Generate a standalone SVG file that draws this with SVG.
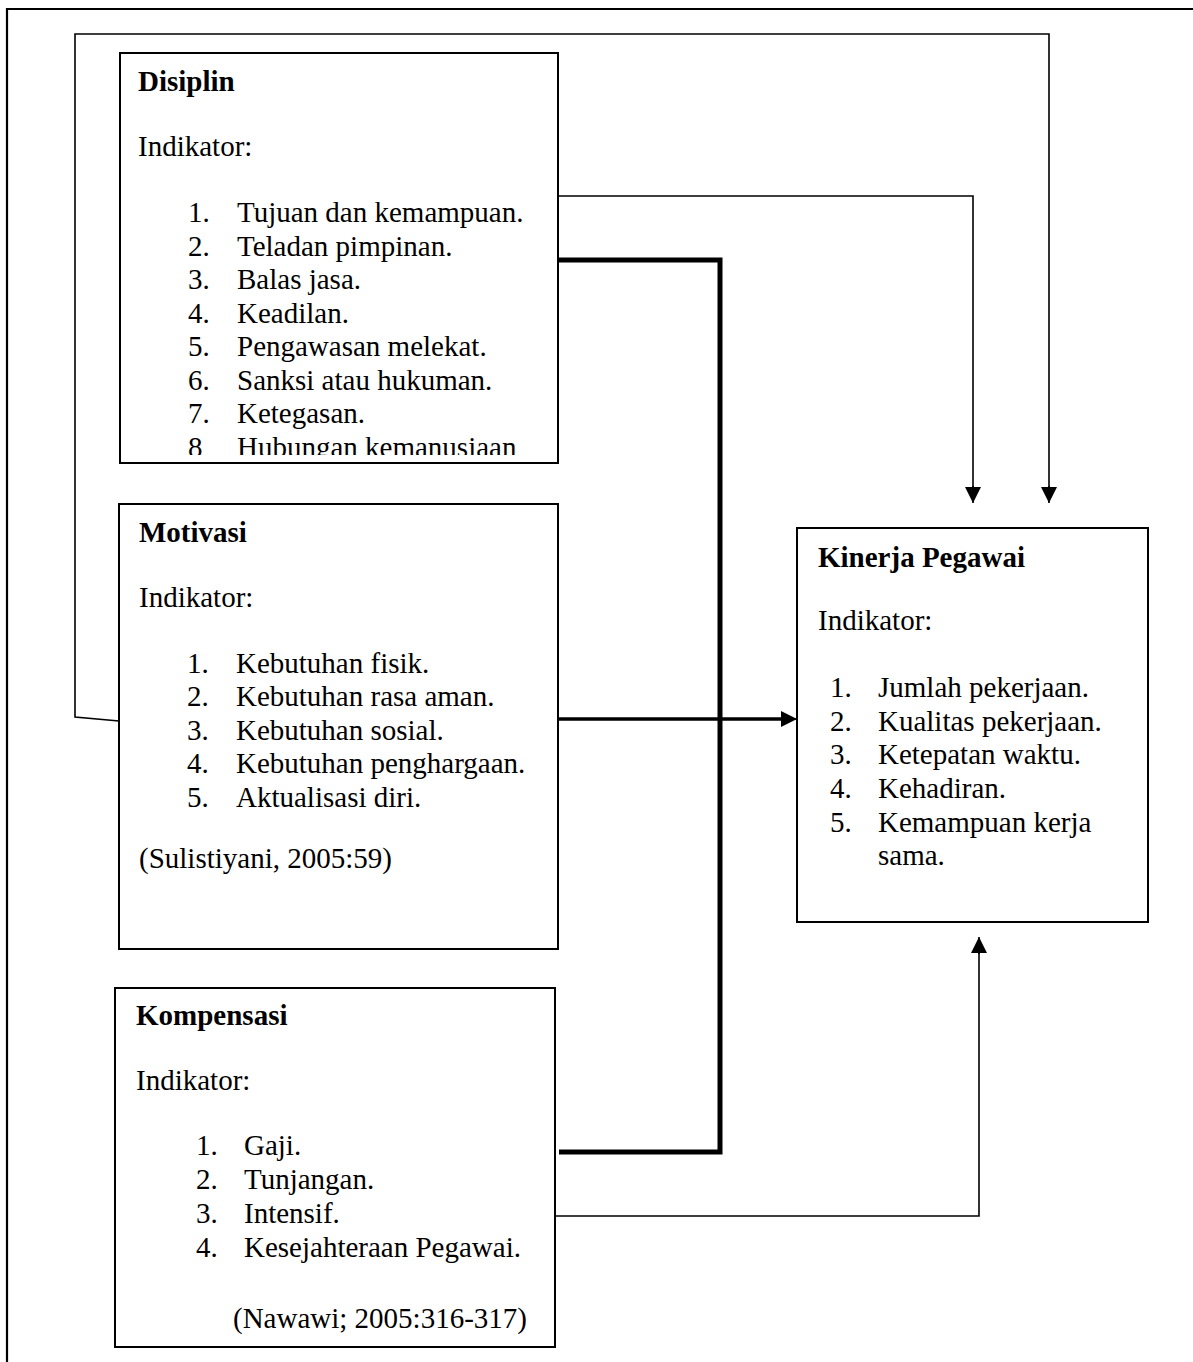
<svg xmlns="http://www.w3.org/2000/svg" width="1193" height="1362" viewBox="0 0 1193 1362">
<style>
text{font-family:"Liberation Serif","Times New Roman",serif;font-size:29px;fill:#000}
.t{font-weight:bold}
.box{fill:#fff;stroke:#000;stroke-width:2}
.thin{fill:none;stroke:#000;stroke-width:1.6}
.thick{fill:none;stroke:#000;stroke-width:5}
</style>
<defs>
<marker id="ah" markerWidth="16" markerHeight="16" viewBox="0 0 16 16" refX="16" refY="8" orient="auto" markerUnits="userSpaceOnUse">
<path d="M0,0 L16,8 L0,16 Z" fill="#000"/>
</marker>
<clipPath id="clipD"><rect x="120" y="54" width="438" height="401"/></clipPath>
</defs>
<rect width="1193" height="1362" fill="#fff"/>
<path d="M7,1362 V9 H1193" fill="none" stroke="#000" stroke-width="2.2"/>

<g id="connectors">
<path class="thin" d="M119,721 L75,717 V34 H1049 V488" />
<path class="thin" d="M1049,486 V503" marker-end="url(#ah)"/>
<path class="thin" d="M555,196 H973 V488"/>
<path class="thin" d="M973,486 V503" marker-end="url(#ah)"/>
<path class="thick" d="M558,260 H720 V1152 H559"/>
<path fill="none" stroke="#000" stroke-width="3.5" d="M559,719 H785"/>
<path class="thin" d="M785,719 H797" marker-end="url(#ah)"/>
<path class="thin" d="M555,1216 H979 V952"/>
<path class="thin" d="M979,954 V937" marker-end="url(#ah)"/>
</g>

<g id="disiplin">
<rect class="box" x="120" y="53" width="438" height="410"/>
<g clip-path="url(#clipD)">
<text class="t" x="138" y="91">Disiplin</text>
<text x="138" y="156">Indikator:</text>
<text x="188" y="222">1.</text><text x="237" y="222">Tujuan dan kemampuan.</text>
<text x="188" y="256">2.</text><text x="237" y="256">Teladan pimpinan.</text>
<text x="188" y="289">3.</text><text x="237" y="289">Balas jasa.</text>
<text x="188" y="323">4.</text><text x="237" y="323">Keadilan.</text>
<text x="188" y="356">5.</text><text x="237" y="356">Pengawasan melekat.</text>
<text x="188" y="390">6.</text><text x="237" y="390">Sanksi atau hukuman.</text>
<text x="188" y="423">7.</text><text x="237" y="423">Ketegasan.</text>
<text x="188" y="457">8</text><text x="237" y="457">Hubungan kemanusiaan</text>
</g>
</g>

<g id="motivasi">
<rect class="box" x="119" y="504" width="439" height="445"/>
<text class="t" x="139" y="542">Motivasi</text>
<text x="139" y="607">Indikator:</text>
<text x="187" y="673">1.</text><text x="236" y="673">Kebutuhan fisik.</text>
<text x="187" y="706">2.</text><text x="236" y="706">Kebutuhan rasa aman.</text>
<text x="187" y="740">3.</text><text x="236" y="740">Kebutuhan sosial.</text>
<text x="187" y="773">4.</text><text x="236" y="773">Kebutuhan penghargaan.</text>
<text x="187" y="807">5.</text><text x="236" y="807">Aktualisasi diri.</text>
<text x="139" y="868">(Sulistiyani, 2005:59)</text>
</g>

<g id="kompensasi">
<rect class="box" x="115" y="988" width="440" height="359"/>
<text class="t" x="136" y="1025">Kompensasi</text>
<text x="136" y="1090">Indikator:</text>
<text x="196" y="1155">1.</text><text x="244" y="1155">Gaji.</text>
<text x="196" y="1189">2.</text><text x="244" y="1189">Tunjangan.</text>
<text x="196" y="1223">3.</text><text x="244" y="1223">Intensif.</text>
<text x="196" y="1257">4.</text><text x="244" y="1257">Kesejahteraan Pegawai.</text>
<text x="233" y="1328">(Nawawi; 2005:316-317)</text>
</g>

<g id="kinerja">
<rect class="box" x="797" y="528" width="351" height="394"/>
<text class="t" x="818" y="567">Kinerja Pegawai</text>
<text x="818" y="630">Indikator:</text>
<text x="830" y="697">1.</text><text x="878" y="697">Jumlah pekerjaan.</text>
<text x="830" y="731">2.</text><text x="878" y="731">Kualitas pekerjaan.</text>
<text x="830" y="764">3.</text><text x="878" y="764">Ketepatan waktu.</text>
<text x="830" y="798">4.</text><text x="878" y="798">Kehadiran.</text>
<text x="830" y="832">5.</text><text x="878" y="832">Kemampuan kerja</text>
<text x="878" y="865">sama.</text>
</g>
</svg>
